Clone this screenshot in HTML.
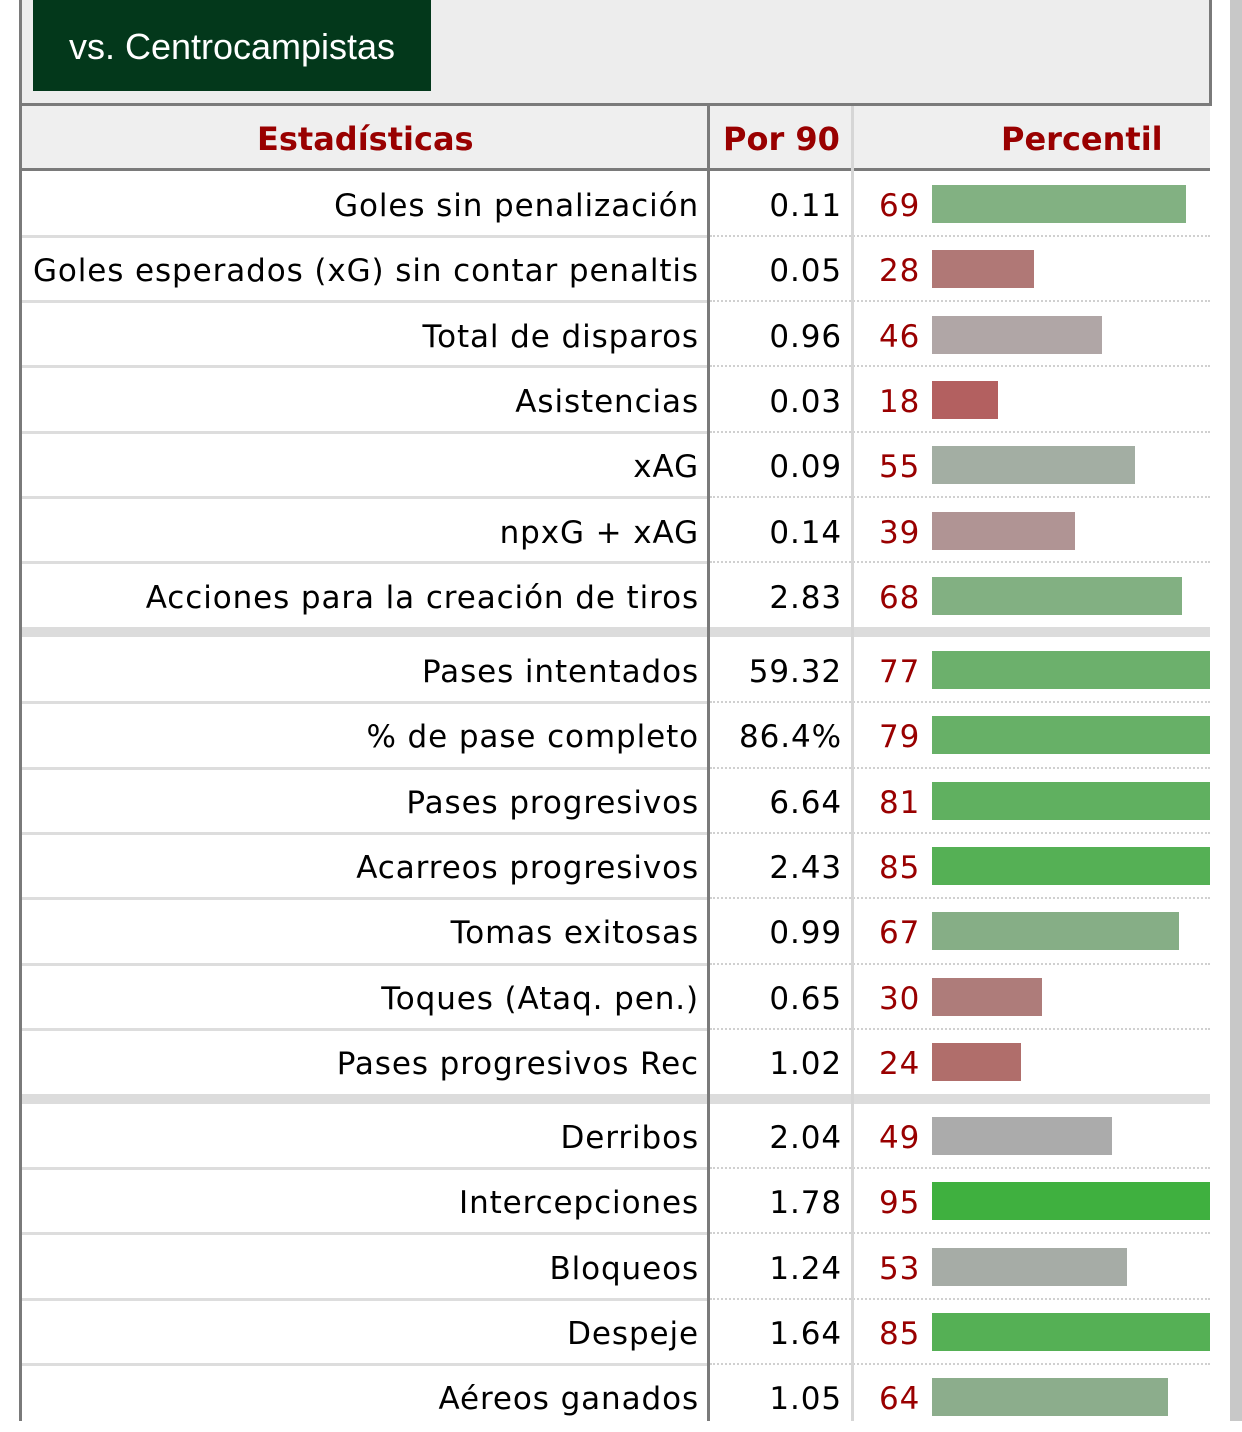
<!DOCTYPE html>
<html><head><meta charset="utf-8"><style>
body{margin:0;width:1242px;height:1421px;background:#fff;position:relative;overflow:hidden;font-family:"DejaVu Sans","Liberation Sans",sans-serif;}
.a{position:absolute}
.strip{left:1230px;top:0;width:12px;height:1421px;background:#c8c8c8}
.lb{left:19px;top:0;width:3px;height:1421px;background:#7a7a7a}
.panel{left:22px;top:0;width:1187px;height:103px;background:#ededed;border-right:3px solid #7a7a7a;border-bottom:3px solid #7a7a7a}
.btn{left:33px;top:0;width:398px;height:91px;background:#03381b;color:#fff;font-family:"Liberation Sans",sans-serif;font-size:36px;line-height:94px;text-align:center}
.hdr{left:22px;top:106px;width:1188px;height:62px;background:#efefef;border-bottom:3px solid #7a7a7a}
.h{position:absolute;top:0;line-height:66px;color:#990000;font-weight:bold;font-size:32px}
.vs1{left:707px;top:106px;width:3px;height:1315px;background:#7a7a7a}
.vs2{left:851px;top:106px;width:3px;height:1315px;background:#d6d6d6}
.row{position:absolute;left:22px;width:1188px;height:65px;font-size:31px;letter-spacing:0.9px}
.row .l{position:absolute;right:511px;top:2px;line-height:65px;color:#000;white-space:nowrap}
.row .v{position:absolute;right:368px;top:2px;line-height:65px;color:#000}
.row .p{position:absolute;left:857px;top:2px;line-height:65px;color:#990000}
.row .b{position:absolute;left:910px;top:13px;height:38px}
.sep{position:absolute;left:22px;width:1188px}
.sl{position:absolute;left:0;width:686px;height:3px;background:#ddd}
.sd{position:absolute;left:688px;width:500px;height:0;border-top:2px dotted #d0d0d0}
.band{position:absolute;left:22px;width:1188px;background:#dcdcdc}
</style></head><body>
<div class="a strip"></div>
<div class="a panel"></div>
<div class="a btn">vs. Centrocampistas</div>
<div class="a hdr">
<div class="h" style="left:235px">Estadísticas</div>
<div class="h" style="left:701px">Por 90</div>
<div class="h" style="left:979px">Percentil</div>
</div>

<div class="band" style="top:627px;height:10px"></div>
<div class="band" style="top:1094px;height:10px"></div>

<div class="row" style="top:172px"><span class="l">Goles sin penalización</span><span class="v">0.11</span><span class="p">69</span><div class="b" style="width:254px;background:#82b182"></div></div>
<div class="row" style="top:237px"><span class="l">Goles esperados (xG) sin contar penaltis</span><span class="v">0.05</span><span class="p">28</span><div class="b" style="width:102px;background:#b07876"></div></div>
<div class="row" style="top:303px"><span class="l">Total de disparos</span><span class="v">0.96</span><span class="p">46</span><div class="b" style="width:170px;background:#b0a6a6"></div></div>
<div class="row" style="top:368px"><span class="l">Asistencias</span><span class="v">0.03</span><span class="p">18</span><div class="b" style="width:66px;background:#b36060"></div></div>
<div class="row" style="top:433px"><span class="l">xAG</span><span class="v">0.09</span><span class="p">55</span><div class="b" style="width:203px;background:#a3aea3"></div></div>
<div class="row" style="top:499px"><span class="l">npxG + xAG</span><span class="v">0.14</span><span class="p">39</span><div class="b" style="width:143px;background:#b09494"></div></div>
<div class="row" style="top:564px"><span class="l">Acciones para la creación de tiros</span><span class="v">2.83</span><span class="p">68</span><div class="b" style="width:250px;background:#82b082"></div></div>

<div class="row" style="top:638px"><span class="l">Pases intentados</span><span class="v">59.32</span><span class="p">77</span><div class="b" style="width:278px;background:#6cb06c"></div></div>
<div class="row" style="top:703px"><span class="l">% de pase completo</span><span class="v">86.4%</span><span class="p">79</span><div class="b" style="width:278px;background:#67b067"></div></div>
<div class="row" style="top:769px"><span class="l">Pases progresivos</span><span class="v">6.64</span><span class="p">81</span><div class="b" style="width:278px;background:#60b060"></div></div>
<div class="row" style="top:834px"><span class="l">Acarreos progresivos</span><span class="v">2.43</span><span class="p">85</span><div class="b" style="width:278px;background:#55b055"></div></div>
<div class="row" style="top:899px"><span class="l">Tomas exitosas</span><span class="v">0.99</span><span class="p">67</span><div class="b" style="width:247px;background:#86ae86"></div></div>
<div class="row" style="top:965px"><span class="l">Toques (Ataq. pen.)</span><span class="v">0.65</span><span class="p">30</span><div class="b" style="width:110px;background:#ae7c7a"></div></div>
<div class="row" style="top:1030px"><span class="l">Pases progresivos Rec</span><span class="v">1.02</span><span class="p">24</span><div class="b" style="width:89px;background:#b06e6b"></div></div>

<div class="row" style="top:1104px"><span class="l">Derribos</span><span class="v">2.04</span><span class="p">49</span><div class="b" style="width:180px;background:#ababab"></div></div>
<div class="row" style="top:1169px"><span class="l">Intercepciones</span><span class="v">1.78</span><span class="p">95</span><div class="b" style="width:278px;background:#3fb03f"></div></div>
<div class="row" style="top:1235px"><span class="l">Bloqueos</span><span class="v">1.24</span><span class="p">53</span><div class="b" style="width:195px;background:#a6aca6"></div></div>
<div class="row" style="top:1300px"><span class="l">Despeje</span><span class="v">1.64</span><span class="p">85</span><div class="b" style="width:278px;background:#55b055"></div></div>
<div class="row" style="top:1365px"><span class="l">Aéreos ganados</span><span class="v">1.05</span><span class="p">64</span><div class="b" style="width:236px;background:#8cad8c"></div></div>

<div class="sep" style="top:235px"><div class="sl"></div><div class="sd"></div></div>
<div class="sep" style="top:300px"><div class="sl"></div><div class="sd"></div></div>
<div class="sep" style="top:365px"><div class="sl"></div><div class="sd"></div></div>
<div class="sep" style="top:431px"><div class="sl"></div><div class="sd"></div></div>
<div class="sep" style="top:496px"><div class="sl"></div><div class="sd"></div></div>
<div class="sep" style="top:561px"><div class="sl"></div><div class="sd"></div></div>
<div class="sep" style="top:701px"><div class="sl"></div><div class="sd"></div></div>
<div class="sep" style="top:767px"><div class="sl"></div><div class="sd"></div></div>
<div class="sep" style="top:832px"><div class="sl"></div><div class="sd"></div></div>
<div class="sep" style="top:897px"><div class="sl"></div><div class="sd"></div></div>
<div class="sep" style="top:963px"><div class="sl"></div><div class="sd"></div></div>
<div class="sep" style="top:1028px"><div class="sl"></div><div class="sd"></div></div>
<div class="sep" style="top:1167px"><div class="sl"></div><div class="sd"></div></div>
<div class="sep" style="top:1232px"><div class="sl"></div><div class="sd"></div></div>
<div class="sep" style="top:1298px"><div class="sl"></div><div class="sd"></div></div>
<div class="sep" style="top:1363px"><div class="sl"></div><div class="sd"></div></div>

<div class="a vs1"></div>
<div class="a vs2"></div>
<div class="a lb"></div>
</body></html>
